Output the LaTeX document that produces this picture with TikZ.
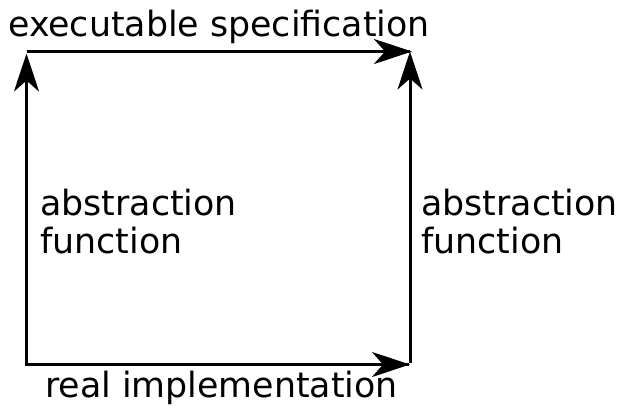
\documentclass[tikz,border=0pt]{standalone}
\usepackage{fontspec}
\setmainfont{DejaVu Sans}
\usetikzlibrary{arrows.meta}
\begin{document}
\begin{tikzpicture}[x=1pt,y=-1pt,
  edge/.style={line width=3pt,-{Stealth[length=38pt,width=25pt,inset=11pt]}},
  lbl/.style={inner sep=0pt,font=\fontsize{34.8}{38}\selectfont,align=left}]
  \useasboundingbox (0,0) rectangle (617,410);
  % corners of the square
  \coordinate (bl) at (26.5,364.5);
  \coordinate (br) at (410,364.5);
  \coordinate (tl) at (26.5,51.5);
  \coordinate (tr) at (410,51.5);
  % arrows
  \draw[line width=3pt] ([xshift=-1.5pt]bl) -- ([xshift=-1.5pt]br);
  \draw[line width=3pt] (tl) -- (tr);
  \draw[edge] ([yshift=1.5pt]bl) -- ([yshift=-2pt]tl);
  \draw[edge] (tl) -- ([xshift=2pt]tr);
  \draw[edge] ([yshift=1.5pt]br) -- (tr);
  \draw[edge] ([xshift=-1.5pt]bl) -- (br);
  % labels
  \node[lbl,anchor=base west] (spec) at (8,36) {executable specification};
  \node[lbl,anchor=north west] (absl) at (40,189) {abstraction\\function};
  \node[lbl,anchor=north west] (absr) at (421,189) {abstraction\\function};
  \node[lbl,anchor=base west] (impl) at (45,397) {real implementation};
\end{tikzpicture}
\end{document}
